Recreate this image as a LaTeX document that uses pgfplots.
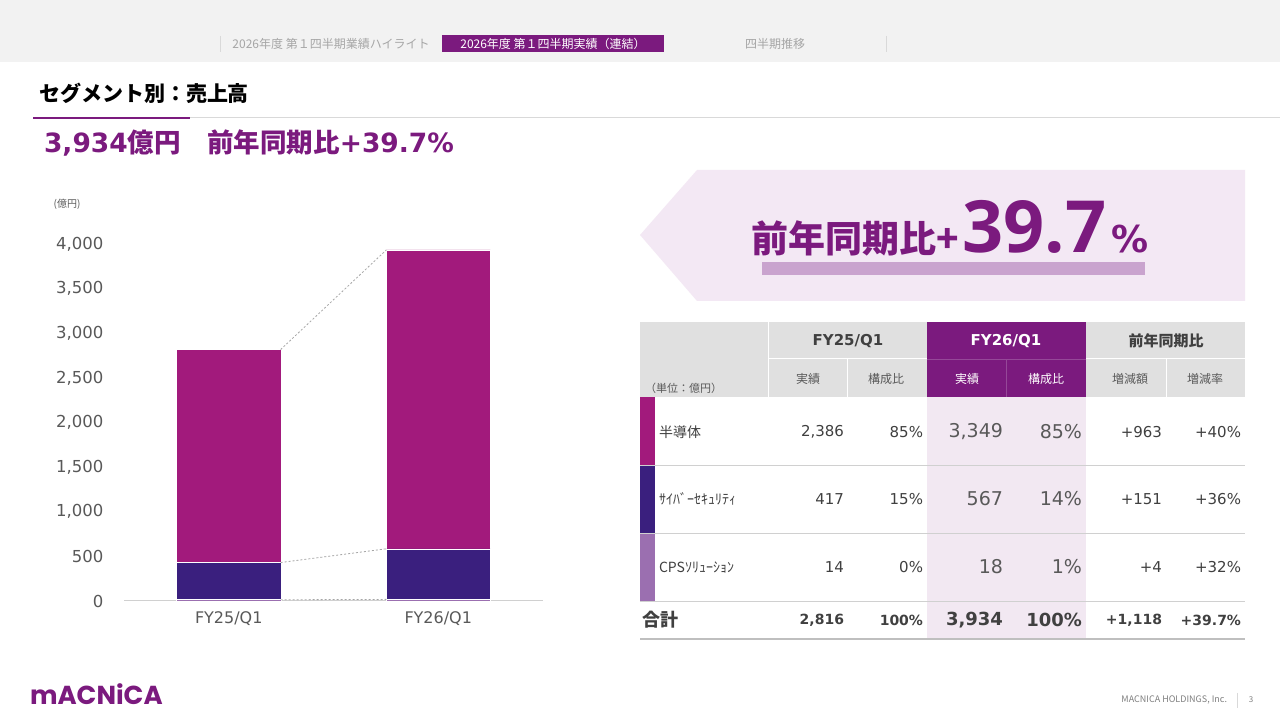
\documentclass[border=0pt]{standalone}
\usepackage{pgfplots}
\pgfplotsset{compat=1.18}
\usepackage{pgfplotstable}
\usepackage{fontspec}
\setmainfont{DejaVu Sans}
\newfontfamily\jp{Noto Sans CJK JP}
\newfontfamily\bignum{Open Sans}
\newfontfamily\logo{Poppins}

\newcommand{\fs}[1]{\fontsize{#1}{#1}\selectfont}

\definecolor{semi}{HTML}{A21A7C}
\definecolor{cyber}{HTML}{3A1F7E}
\definecolor{cps}{HTML}{9B6FB0}
\definecolor{brand}{HTML}{7B1A7E}
\definecolor{paleband}{HTML}{F2E8F2}
\definecolor{callout}{HTML}{F3E8F4}
\definecolor{lilac}{HTML}{C9A3CE}
\definecolor{hdrgray}{HTML}{E0E0E0}
\definecolor{navgray}{HTML}{F2F2F2}
\definecolor{navline}{HTML}{D9D9D9}
\definecolor{navtxt}{HTML}{A6A6A6}
\definecolor{rule}{HTML}{D9D9D9}
\definecolor{axisline}{HTML}{D0D0D0}
\definecolor{txt}{HTML}{404040}
\definecolor{hdrtxt}{HTML}{595959}
\definecolor{ticktxt}{HTML}{595959}
\definecolor{rowline}{HTML}{D0D0D0}
\definecolor{botline}{HTML}{BFBFBF}
\definecolor{foot}{HTML}{7F7F7F}
\definecolor{connector}{HTML}{A6A6A6}

% Segment sales (100 million yen), stacked bottom to top: CPS, cyber security, semiconductors
\pgfplotstableread{
idx semi cyber cps
0 2386 417 14
1 3349 567 18
}\segsales

\pgfplotsset{
  segaxis/.style={
    at={(124pt,119pt)}, anchor=south west,
    scale only axis, width=419pt, height=357pt,
    xmin=-0.5, xmax=1.5, ymin=0, ymax=4000,
    clip=false,
  }
}

% one body row of the table: y, six cells
\newcommand{\tabrow}[7]{%
  \node[anchor=east, text=txt] at (844,#1) {\fs{15}#2};
  \node[anchor=east, text=txt] at (923,#1) {\fs{15}#3};
  \node[anchor=east, text=hdrtxt] at (1003,#1) {\fs{19}#4};
  \node[anchor=east, text=hdrtxt] at (1082,#1) {\fs{19}#5};
  \node[anchor=east, text=txt] at (1162,#1) {\fs{15}#6};
  \node[anchor=east, text=txt] at (1241,#1) {\fs{15}#7};
}

\begin{document}
\begin{tikzpicture}[x=1pt,y=1pt]
\useasboundingbox (0,0) rectangle (1280,720);
\fill[white] (0,0) rectangle (1280,720);

% ---------- stacked bars ----------
\begin{axis}[
  segaxis,
  ybar stacked, bar width=104pt,
  axis lines*=left,
  y axis line style={draw=none},
  x axis line style={draw=axisline, line width=1pt},
  xtick={0,1}, xticklabels={FY25/Q1,FY26/Q1},
  ytick={0,500,...,4000},
  major tick length=0pt,
  scaled y ticks=false,
  /pgf/number format/assume math mode=true,
  /pgf/number format/1000 sep={,},
  yticklabel style={font=\fs{16.5}, text=ticktxt, xshift=-17pt},
  xticklabel style={font=\fs{16}, text=ticktxt, yshift=-7pt},
]
\addplot[fill=cps, draw=white, line width=0.5pt] table[x=idx,y=cps]{\segsales};
\addplot[fill=cyber, draw=white, line width=0.5pt] table[x=idx,y=cyber]{\segsales};
\addplot[fill=semi, draw=white, line width=0.5pt] table[x=idx,y=semi]{\segsales};
\end{axis}

% ---------- dashed connectors between stack levels ----------
\begin{axis}[segaxis, hide axis]
\addplot[connector, line width=0.8pt, dash pattern=on 2pt off 2pt] coordinates {(0.2476,2817) (0.7524,3934)};
\addplot[connector, line width=0.8pt, dash pattern=on 2pt off 2pt] coordinates {(0.2476,431) (0.7524,585)};
\addplot[connector, line width=0.8pt, dash pattern=on 2pt off 2pt] coordinates {(0.2476,14) (0.7524,18)};
\end{axis}

\begin{scope}[yshift=720pt, yscale=-1, every node/.append style={inner sep=0pt, outer sep=0pt}]
% navigation bar
\fill[navgray] (0,0) rectangle (1280,62);
\draw[navline] (220,36)--(220,52) (886,36)--(886,52);
\node[text=navtxt] at (331,44) {\jp\fs{12}2026年度 第１四半期業績ハイライト};
\fill[brand] (442,35) rectangle (664,52);
\node[text=white] at (553,44) {\jp\fs{12}2026年度 第１四半期実績（連結）};
\node[text=navtxt] at (775,44) {\jp\fs{12}四半期推移};

% heading
\node[anchor=west] at (39,93) {\jp\bfseries\fs{21}セグメント別：売上高};
\draw[rule, line width=1pt] (33,118)--(1280,118);
\draw[brand, line width=2pt] (33,118)--(190,118);
\node[anchor=west, text=brand] at (44,143) {\bfseries\fs{26.5}3,934{\jp 億円　前年同期比}+39.7\%};

% axis unit
\node[text=hdrtxt] at (67,204) {\jp\fs{10}(億円)};

% callout arrow
\fill[callout] (640,235)--(697,170)--(1245,170)--(1245,301)--(697,301)--cycle;
\fill[lilac] (762,262) rectangle (1145,275);
\node[anchor=base west, text=brand] at (751,253) {\bfseries{\jp\fs{37}前年同期比+}\hspace{4pt}{\bignum\fs{72}39.7}\hspace{5pt}{\fs{37}\%}};

% table header
\fill[hdrgray] (640,322) rectangle (927,397);
\fill[hdrgray] (1086,322) rectangle (1245,397);
\fill[brand] (927,322) rectangle (1086,397);
\draw[white, line width=1pt] (768,359)--(927,359) (1086,359)--(1245,359);
\draw[white, line width=0.8pt] (768,322)--(768,397) (847,359)--(847,397) (1166,359)--(1166,397);
\draw[brand!80!white, line width=0.8pt] (927,359)--(1086,359) (1006,359)--(1006,397);
\node[text=txt] at (848,341) {\bfseries\fs{15}FY25/Q1};
\node[text=white] at (1006,341) {\bfseries\fs{15}FY26/Q1};
\node[text=txt] at (1166,341) {\jp\bfseries\fs{15}前年同期比};
\node[text=hdrtxt] at (808,379) {\jp\fs{12}実績};
\node[text=hdrtxt] at (886,379) {\jp\fs{12}構成比};
\node[text=white] at (967,379) {\jp\fs{12}実績};
\node[text=white] at (1046,379) {\jp\fs{12}構成比};
\node[text=hdrtxt] at (1130,379) {\jp\fs{12}増減額};
\node[text=hdrtxt] at (1205,379) {\jp\fs{12}増減率};
\node[anchor=west, text=hdrtxt] at (645,388) {\jp\fs{11}（単位：億円）};

% table body
\fill[paleband] (927,397) rectangle (1086,639);
\fill[semi] (640,397) rectangle (655,465);
\fill[cyber] (640,465) rectangle (655,533);
\fill[cps] (640,533) rectangle (655,601);
\draw[rowline, line width=0.8pt] (640,465)--(1245,465) (640,533)--(1245,533) (640,601)--(1245,601);
\draw[botline, line width=1.5pt] (640,639)--(1245,639);

\node[anchor=west, text=txt] at (659,432) {\jp\fs{14}半導体};
\node[anchor=west, text=txt] at (659,499) {\jp\fs{14}ｻｲﾊﾞｰｾｷｭﾘﾃｨ};
\node[anchor=west, text=txt] at (659,567) {\jp\fs{14}CPSｿﾘｭｰｼｮﾝ};

\tabrow{432}{2,386}{85\%}{3,349}{85\%}{+963}{+40\%}
\tabrow{499}{417}{15\%}{567}{14\%}{+151}{+36\%}
\tabrow{567}{14}{0\%}{18}{1\%}{+4}{+32\%}

\node[anchor=west, text=txt] at (642,620) {\jp\bfseries\fs{18}合計};
\node[anchor=east, text=txt] at (844,620) {\bfseries\fs{14}2,816};
\node[anchor=east, text=txt] at (923,620) {\bfseries\fs{14}100\%};
\node[anchor=east, text=txt] at (1003,620) {\bfseries\fs{18}3,934};
\node[anchor=east, text=txt] at (1082,620) {\bfseries\fs{18}100\%};
\node[anchor=east, text=txt] at (1162,620) {\bfseries\fs{14}+1,118};
\node[anchor=east, text=txt] at (1241,620) {\bfseries\fs{14}+39.7\%};

% footer
\node[anchor=base west, text=brand] at (30,705) {\logo\bfseries\fs{26}mACNiCA};
\node[anchor=east, text=foot] at (1227,700) {\jp\fs{9}MACNICA HOLDINGS, Inc.};
\draw[navline] (1237,693)--(1237,708);
\node[text=foot] at (1251,700) {\jp\fs{8}3};
\end{scope}
\end{tikzpicture}
\end{document}
